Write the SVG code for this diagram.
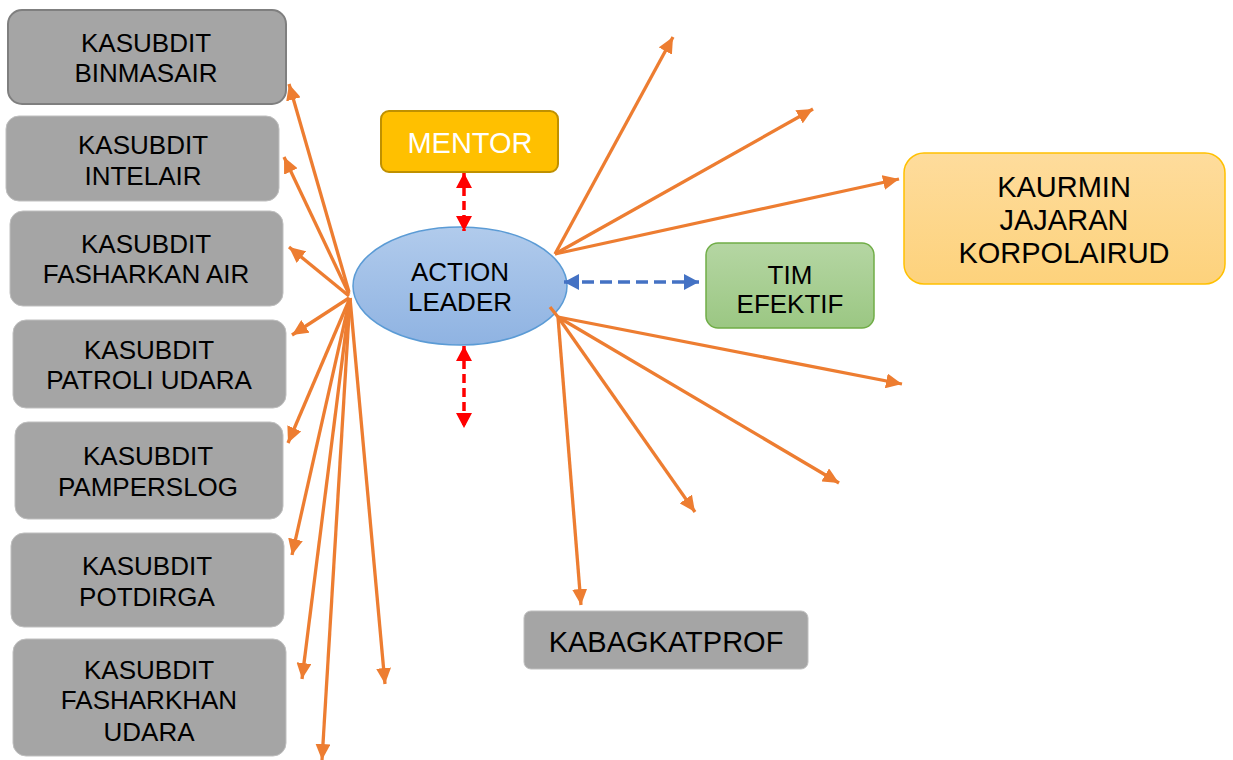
<svg xmlns="http://www.w3.org/2000/svg" width="1233" height="760" viewBox="0 0 1233 760">
<style>
.box{fill:#a5a5a5;stroke:#bfbfbf;stroke-width:1}
.t{font-family:"Liberation Sans",Arial,sans-serif;font-size:26px;fill:#000;text-anchor:middle;dominant-baseline:central}
.t29{font-size:29px}
.or{stroke:#ed7d31;stroke-width:3.3;fill:none;marker-end:url(#ao)}
</style>
<defs>
<marker id="ao" markerUnits="userSpaceOnUse" markerWidth="17" markerHeight="15" refX="16" refY="7.5" orient="auto"><path d="M0,0 L16,7.5 L0,15 z" fill="#ed7d31"/></marker>
<marker id="ar" markerUnits="userSpaceOnUse" markerWidth="16" markerHeight="16" refX="15" refY="8" orient="auto-start-reverse"><path d="M0,0 L15,8 L0,16 z" fill="#ff0000"/></marker>
<marker id="ab" markerUnits="userSpaceOnUse" markerWidth="16" markerHeight="16" refX="15" refY="8" orient="auto-start-reverse"><path d="M0,0 L15,8 L0,16 z" fill="#4472c4"/></marker>
<linearGradient id="gb" x1="0" y1="0" x2="0" y2="1"><stop offset="0" stop-color="#b1cbec"/><stop offset="1" stop-color="#8fb3e2"/></linearGradient>
<linearGradient id="gg" x1="0" y1="0" x2="0" y2="1"><stop offset="0" stop-color="#b5d6a3"/><stop offset="1" stop-color="#9bc783"/></linearGradient>
<linearGradient id="go" x1="0" y1="0" x2="0" y2="1"><stop offset="0" stop-color="#fedc9c"/><stop offset="1" stop-color="#fdd27c"/></linearGradient>
</defs>
<rect width="1233" height="760" fill="#fff"/>
<g id="n-binmasair"><rect x="8" y="10" width="278" height="94" rx="14" class="box" style="stroke:#7f7f7f;stroke-width:2"/><text class="t" x="146" y="43">KASUBDIT</text><text class="t" x="146" y="73">BINMASAIR</text></g>
<g id="n-intelair"><rect x="6" y="116" width="273" height="85" rx="13" class="box"/><text class="t" x="143" y="145">KASUBDIT</text><text class="t" x="143" y="176">INTELAIR</text></g>
<g id="n-fasharkan-air"><rect x="10" y="211" width="273" height="95" rx="13" class="box"/><text class="t" x="146" y="244">KASUBDIT</text><text class="t" x="146" y="274">FASHARKAN AIR</text></g>
<g id="n-patroli-udara"><rect x="13" y="320" width="273" height="88" rx="13" class="box"/><text class="t" x="149" y="350">KASUBDIT</text><text class="t" x="149" y="380">PATROLI UDARA</text></g>
<g id="n-pamperslog"><rect x="15" y="422" width="268" height="97" rx="13" class="box"/><text class="t" x="148" y="456">KASUBDIT</text><text class="t" x="148" y="487">PAMPERSLOG</text></g>
<g id="n-potdirga"><rect x="11" y="533" width="273" height="94" rx="13" class="box"/><text class="t" x="147" y="566">KASUBDIT</text><text class="t" x="147" y="597">POTDIRGA</text></g>
<g id="n-fasharkhan-udara"><rect x="13" y="639" width="273" height="117" rx="13" class="box"/><text class="t" x="149" y="670">KASUBDIT</text><text class="t" x="149" y="700">FASHARKHAN</text><text class="t" x="149" y="732">UDARA</text></g>
<g id="n-mentor"><rect x="381" y="111" width="177" height="61" rx="8" fill="#ffc000" stroke="#bf9000" stroke-width="2"/><text class="t t29" x="470" y="143" style="fill:#fff">MENTOR</text></g>
<g id="n-action-leader"><ellipse cx="460" cy="286" rx="107" ry="59" fill="url(#gb)" stroke="#5b9bd5" stroke-width="1.5"/><text class="t" x="460" y="272">ACTION</text><text class="t" x="460" y="302">LEADER</text></g>
<g id="n-tim-efektif"><rect x="706" y="243" width="168" height="85" rx="12" fill="url(#gg)" stroke="#70ad47" stroke-width="1.5"/><text class="t" x="790" y="275">TIM</text><text class="t" x="790" y="304">EFEKTIF</text></g>
<g id="n-kaurmin"><rect x="904" y="153" width="321" height="131" rx="20" fill="url(#go)" stroke="#ffc000" stroke-width="1.5"/><text class="t t29" x="1064" y="187">KAURMIN</text><text class="t t29" x="1064" y="220">JAJARAN</text><text class="t t29" x="1064" y="253">KORPOLAIRUD</text></g>
<g id="n-kabagkatprof"><rect x="524" y="611" width="284" height="58" rx="7" class="box"/><text class="t t29" x="666" y="642">KABAGKATPROF</text></g>
<g id="connectors">
<line class="or" x1="349" y1="292" x2="289" y2="84"/>
<line class="or" x1="349" y1="294" x2="284" y2="157"/>
<line class="or" x1="349" y1="296" x2="289" y2="247"/>
<line class="or" x1="349" y1="298" x2="292" y2="335"/>
<line class="or" x1="350" y1="298" x2="288" y2="443"/>
<line class="or" x1="350" y1="298" x2="292" y2="555"/>
<line class="or" x1="350" y1="298" x2="302" y2="679"/>
<line class="or" x1="350" y1="298" x2="322" y2="760"/>
<line class="or" x1="350" y1="298" x2="385" y2="684"/>
<line class="or" x1="555" y1="254" x2="673" y2="37"/>
<line class="or" x1="555" y1="254" x2="813" y2="109"/>
<line class="or" x1="555" y1="254" x2="899" y2="179"/>
<line x1="550" y1="307" x2="558" y2="317" stroke="#ed7d31" stroke-width="3.3"/>
<line class="or" x1="558" y1="317" x2="902" y2="384"/>
<line class="or" x1="558" y1="317" x2="839" y2="483"/>
<line class="or" x1="558" y1="317" x2="695" y2="512"/>
<line class="or" x1="558" y1="317" x2="581" y2="605"/>
<line x1="464" y1="173" x2="464" y2="231" stroke="#ff0000" stroke-width="3.5" stroke-dasharray="9 5" marker-start="url(#ar)" marker-end="url(#ar)"/>
<line x1="464" y1="346" x2="464" y2="428" stroke="#ff0000" stroke-width="3.5" stroke-dasharray="9 5" marker-start="url(#ar)" marker-end="url(#ar)"/>
<line x1="564" y1="282" x2="699" y2="282" stroke="#4472c4" stroke-width="3.5" stroke-dasharray="12 6" marker-start="url(#ab)" marker-end="url(#ab)"/>
</g>
</svg>
